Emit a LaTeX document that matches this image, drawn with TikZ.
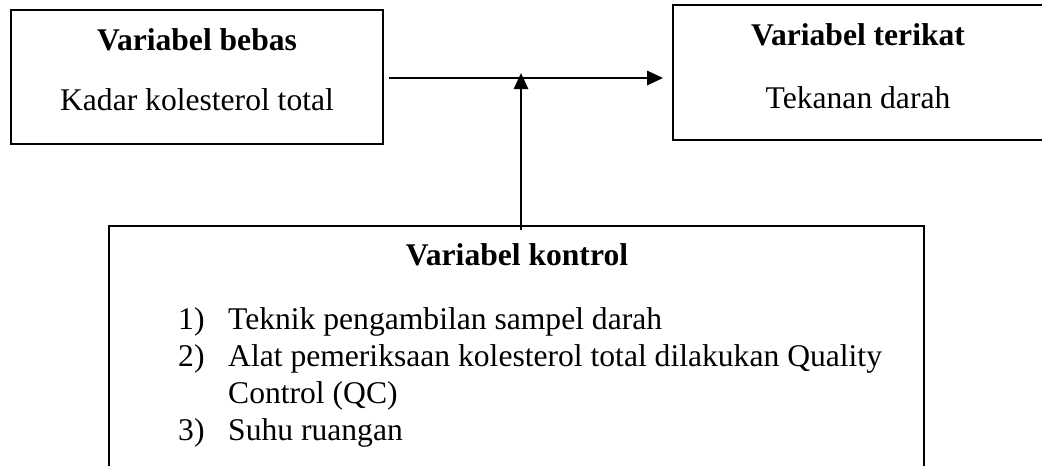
\documentclass[tikz,border=0pt]{standalone}
\usepackage{fontspec}
\setmainfont{Liberation Serif}
\usetikzlibrary{arrows.meta}
\tikzset{
  txt/.style={inner sep=0pt, font=\fontsize{31.6pt}{36pt}\selectfont},
  btxt/.style={inner sep=0pt, font=\fontsize{31.6pt}{36pt}\selectfont\bfseries},
  boxframe/.style={draw=black, line width=1.7pt, inner sep=0pt},
  arr/.style={line width=2.8pt, -{Triangle[length=16pt,width=14pt]}},
}
\begin{document}
\begin{tikzpicture}[x=1pt,y=-1pt]
\useasboundingbox (0,0) rectangle (1042,466);
% boxes
\node[boxframe, minimum width=372pt, minimum height=134pt] (b1) at (197,77) {};
\node[boxframe, minimum width=371pt, minimum height=135pt] (b2) at (858.5,72.5) {};
\node[inner sep=0pt, minimum width=815pt, minimum height=260pt] (ctrl) at (516.5,356) {};
\draw[line width=1.7pt] (ctrl.south west) -- (ctrl.north west) -- (ctrl.north east) -- (ctrl.south east);
% texts
\node[btxt, anchor=base] (t1) at (197,50) {Variabel bebas};
\node[txt, anchor=base] (s1) at (197,110) {Kadar kolesterol total};
\node[btxt, anchor=base] (t2) at (858,45) {Variabel terikat};
\node[txt, anchor=base] (s2) at (858,108) {Tekanan darah};
\node[btxt, anchor=base] (t3) at (517,265) {Variabel kontrol};
\node[txt, anchor=base west] (n1) at (178,329) {1)};
\node[txt, anchor=base west] (i1) at (228,329) {Teknik pengambilan sampel darah};
\node[txt, anchor=base west] (n2) at (178,366) {2)};
\node[txt, anchor=base west] (i2) at (228,366) {Alat pemeriksaan kolesterol total dilakukan Quality};
\node[txt, anchor=base west] (i2b) at (228,403) {Control (QC)};
\node[txt, anchor=base west] (n3) at (178,440) {3)};
\node[txt, anchor=base west] (i3) at (228,440) {Suhu ruangan};
% connectors
\coordinate (mid) at (521,78);
\draw[arr] ([xshift=5pt]b1.east |- mid) -- ([xshift=-9pt]b2.west |- mid);
\draw[arr] ([yshift=-4pt]ctrl.north -| mid) -- ([yshift=5pt]mid);
\end{tikzpicture}
\end{document}
